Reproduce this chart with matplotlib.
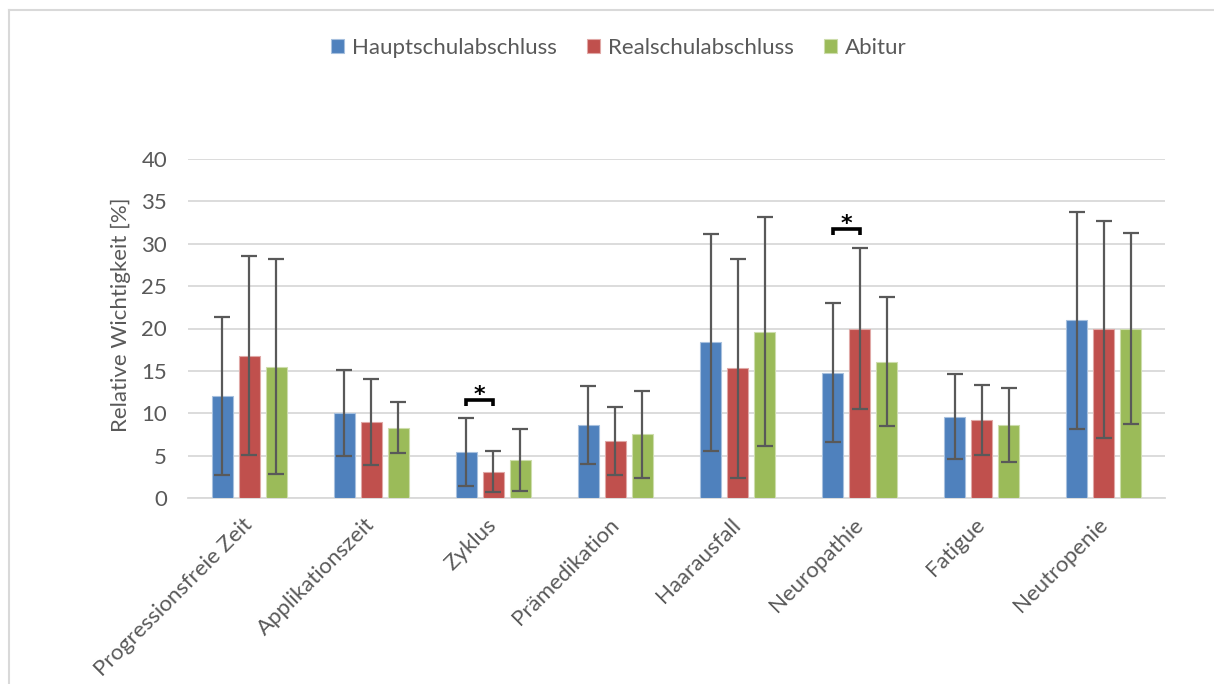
import matplotlib
matplotlib.use("Agg")
import matplotlib.pyplot as plt
import numpy as np

plt.rcParams['font.family'] = ['Lato', 'DejaVu Sans']

categories = ["Progressionsfreie Zeit", "Applikationszeit", "Zyklus", "Prämedikation",
              "Haarausfall", "Neuropathie", "Fatigue", "Neutropenie"]
series_names = ["Hauptschulabschluss", "Realschulabschluss", "Abitur"]

haupt_mean = [12.0, 10.0, 5.4, 8.6, 18.4, 14.8, 9.6, 21.0]
haupt_sd = [9.3, 5.1, 4.0, 4.6, 12.8, 8.2, 5.0, 12.8]
real_mean = [16.8, 9.0, 3.1, 6.7, 15.3, 20.0, 9.2, 19.9]
real_sd = [11.7, 5.1, 2.4, 4.0, 12.9, 9.5, 4.1, 12.8]
abi_mean = [15.5, 8.3, 4.5, 7.5, 19.6, 16.1, 8.6, 20.0]
abi_sd = [12.7, 3.0, 3.7, 5.1, 13.5, 7.6, 4.4, 11.3]

# significant pairs: (category index, series a, series b)
sig_pairs = [(2, 0, 1), (5, 0, 1)]

yticks = [0, 5, 10, 15, 20, 25, 30, 35, 40]

colors = ["#4F81BD", "#C0504D", "#9BBB59"]
edge_colors = ["#A7C0DE", "#E0A8A6", "#CDDDAC"]
text_col = "#595959"
grid_col = "#D9D9D9"
fs = 16

fig = plt.figure(figsize=(12.14, 6.84), dpi=100)
ax = fig.add_axes([188/1214, 1-498/684, (1165-188)/1214, (498-159)/684])

x = np.arange(len(categories))
width = 0.172
step = 0.221
means = [haupt_mean, real_mean, abi_mean]
sds = [haupt_sd, real_sd, abi_sd]
for i, (m, s) in enumerate(zip(means, sds)):
    pos = x + (i - 1) * step
    ax.bar(pos, m, width, color=colors[i], edgecolor=edge_colors[i], linewidth=0.8,
           label=series_names[i], zorder=3)
    ax.errorbar(pos, m, yerr=s, fmt='none', ecolor=text_col, elinewidth=1.6,
                capsize=6, capthick=1.6, zorder=4)

for ci, a, b in sig_pairs:
    xa = ci + (a - 1) * step
    xb = ci + (b - 1) * step
    top = max(means[a][ci] + sds[a][ci], means[b][ci] + sds[b][ci]) + 2.2
    ax.plot([xa, xa, xb, xb], [top - 0.7, top, top, top - 0.7], color='black',
            lw=2.6, solid_joinstyle='miter', solid_capstyle='butt', zorder=5)
    ax.text((xa + xb) / 2, top - 0.1, "*", ha='center', va='baseline',
            fontsize=16, fontweight='bold', color='black', family='DejaVu Sans')

ax.set_xlim(-0.5, len(categories) - 0.5)
ax.set_ylim(0, 40)
ax.set_yticks(yticks)
ax.yaxis.grid(True, color=grid_col, linewidth=1.3, zorder=0)
ax.set_axisbelow(True)
for side in ['top', 'right', 'left']:
    ax.spines[side].set_visible(False)
ax.spines['bottom'].set_color(grid_col)
ax.spines['bottom'].set_linewidth(1.3)
ax.tick_params(axis='both', length=0, colors=text_col, labelsize=fs)
ax.tick_params(axis='y', pad=15)
ax.set_xticks(x)
ax.set_xticklabels(categories, rotation=45, ha='right', va='center',
                   rotation_mode='anchor')
ax.tick_params(axis='x', pad=17)
ax.set_ylabel("Relative Wichtigkeit [%]", fontsize=fs, color=text_col)
ax.yaxis.set_label_coords(-0.058, 0.54)

leg = fig.legend(loc='center', bbox_to_anchor=(0.5095, 1 - 48/684), ncol=3, frameon=False,
                 fontsize=fs, handlelength=0.6, handleheight=0.6, handletextpad=0.35,
                 columnspacing=1.35)
for t in leg.get_texts():
    t.set_color(text_col)

# chart-area frame
fig.add_artist(plt.Line2D([9/1214, 1], [1-10/684, 1-10/684], color=grid_col, lw=1.5))
fig.add_artist(plt.Line2D([9/1214, 9/1214], [0, 1-10/684], color=grid_col, lw=1.5))

fig.savefig("out.png", dpi=100, facecolor='white')
